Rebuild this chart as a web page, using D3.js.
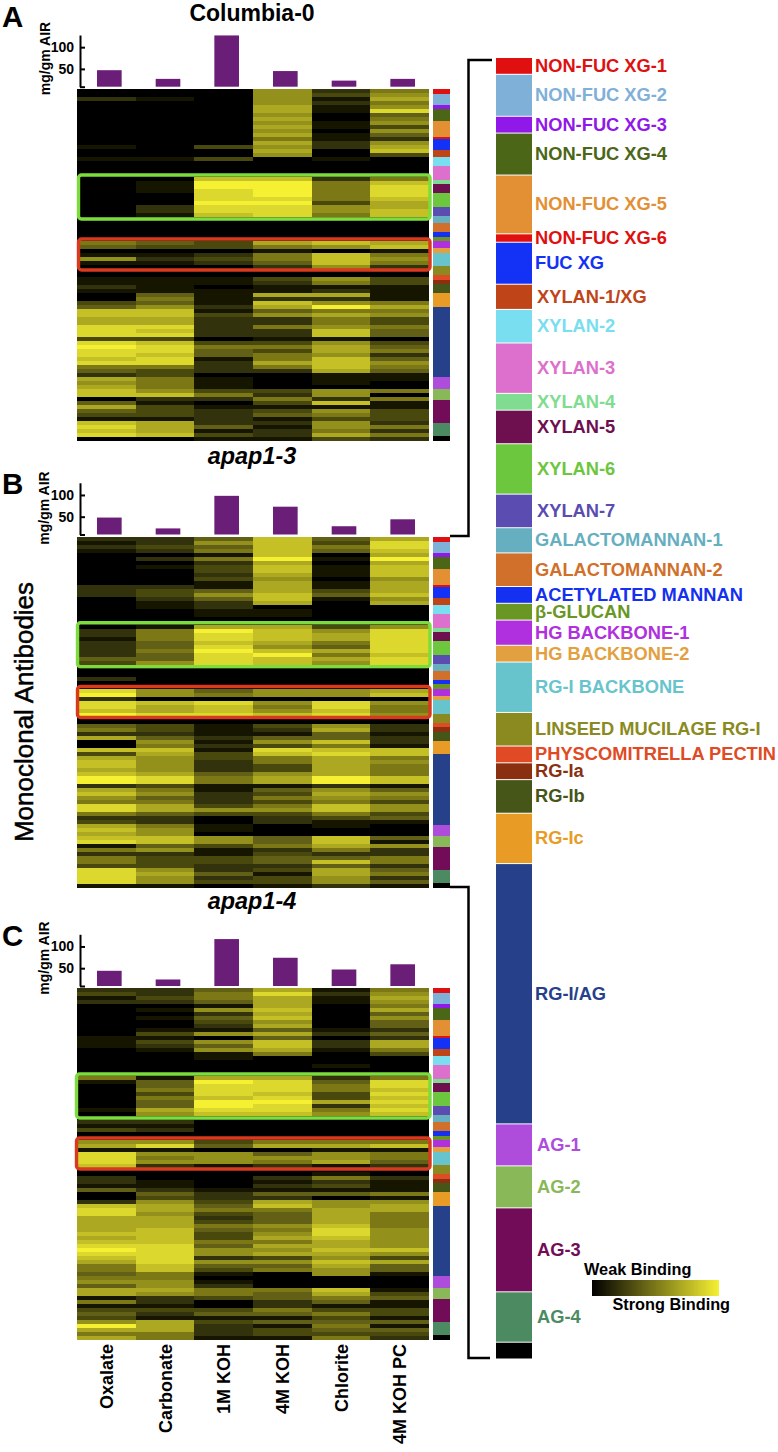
<!DOCTYPE html>
<html><head><meta charset="utf-8">
<style>html,body{margin:0;padding:0;background:#fff}svg{display:block}text{font-family:"Liberation Sans",Arial,sans-serif}</style>
<script src="https://cdn.jsdelivr.net/npm/d3@7/dist/d3.min.js"></script></head><body><div id="c"></div>
<script>
const fractions = ["Oxalate","Carbonate","1M KOH","4M KOH","Chlorite","4M KOH PC"];
const barsA = [47,27,127,45,23,27];
const barsB = [48,23,98,73,28,44];
const barsC = [44,24,117,74,47,59];
const yTicks = [9,50,100];
const groupNames = ["NON-FUC XG-1","NON-FUC XG-2","NON-FUC XG-3","NON-FUC XG-4","NON-FUC XG-5","NON-FUC XG-6","FUC XG","XYLAN-1/XG","XYLAN-2","XYLAN-3","XYLAN-4","XYLAN-5","XYLAN-6","XYLAN-7","GALACTOMANNAN-1","GALACTOMANNAN-2","ACETYLATED MANNAN","β-GLUCAN","HG BACKBONE-1","HG BACKBONE-2","RG-I BACKBONE","LINSEED MUCILAGE RG-I","PHYSCOMITRELLA PECTIN","RG-Ia","RG-Ib","RG-Ic","RG-I/AG","AG-1","AG-2","AG-3","AG-4",""];
const groupCounts = [2,5,2,5,7,1,5,3,4,6,2,4,6,4,3,4,2,2,3,2,6,4,2,2,4,6,31,5,5,10,6,2];
const groupColors = ["#e01010","#7fb0d8","#9018e8","#4c6618","#e39035","#e01010","#1432f5","#bf4518","#78def0","#dd70cc","#7fdc90","#6e0f50","#6cc63e","#5a4cb0","#66afc0","#d0702a","#1430f0","#6a9624","#b030e0","#e3a040","#68c4cc","#8a8a20","#e04a25","#8a3010","#465518","#e89c25","#26408a","#ae4cdc","#88b858","#720c58","#4c8a62","#000000"];
const greenRows = [21.5,32.5];
const redRows = [37.5,45.25];
const rowsA = [
[0,0,0,6,2,5],[0,0,0,6,3,6],[2,1,0,6,1,7],[0,0,0,6,2,5],[0,0,0,7,1,6],[0,0,0,7,1,9],[0,0,0,6,0,4],[0,0,0,7,0,5],[0,0,0,6,1,6],[0,0,0,7,1,3],[0,0,0,6,0,6],
[0,0,0,7,1,4],[0,0,0,5,1,2],[0,0,0,7,2,6],[1,0,3,6,2,7],[0,0,0,7,0,8],[0,0,0,6,0,3],[1,1,3,0,1,0],[0,0,0,0,0,0],[0,0,0,0,0,0],[0,0,0,0,0,0],[0,0,0,0,0,0],
[0,0,8,8,2,5],[0,1,10,10,5,8],[0,1,10,11,5,9],[0,1,9,10,5,9],[0,0,9,10,5,9],[0,0,9,9,5,8],[0,0,10,10,3,7],[0,2,9,9,6,7],[0,2,9,9,6,8],[0,1,8,9,5,8],[1,1,1,1,1,1],
[0,0,0,0,0,0],[0,0,0,0,0,0],[0,0,0,0,0,0],[0,0,0,0,0,0],[0,0,0,0,0,0],[5,4,3,7,8,7],[4,3,3,5,6,8],[0,0,0,1,0,1],[1,1,2,5,8,5],[6,2,3,5,8,6],[1,1,2,4,8,5],
[0,0,0,2,6,2],[0,0,0,0,0,0],[0,0,0,0,0,0],[1,1,1,3,6,3],[1,1,1,2,5,3],[2,1,0,1,1,1],[1,1,1,1,2,1],[0,4,1,7,7,1],[0,5,1,2,2,1],[3,4,1,8,6,5],[4,6,2,7,10,7],
[8,8,1,4,5,5],[8,8,3,6,7,6],[7,7,2,2,5,3],[7,7,2,2,5,3],[9,9,2,5,6,5],[9,8,2,2,8,4],[9,9,2,2,8,4],[3,3,0,1,1,0],[9,8,3,3,6,3],[10,9,5,5,7,4],[9,9,4,3,7,5],[9,8,4,5,6,2],
[8,9,1,5,8,4],[9,9,2,7,8,6],[5,5,2,5,8,5],[4,3,2,2,7,4],[2,3,0,0,1,1],[7,5,1,0,1,1],[6,5,1,0,1,0],[7,5,1,0,0,0],[8,6,3,3,6,5],[8,8,5,2,6,0],
[0,2,2,5,2,5],[4,1,0,3,8,1],[7,3,1,1,1,1],[4,3,2,3,6,3],[3,3,2,4,5,3],[1,1,2,1,3,3],[8,7,2,2,6,2],[9,7,4,1,6,5],[8,7,1,2,5,2],[9,8,3,2,7,5],[0,0,1,1,3,2]];
const rowsB = [
[2,2,4,8,4,7],[1,2,6,8,3,9],[2,3,4,8,5,9],[1,2,5,8,4,8],[0,0,1,8,0,7],[0,2,5,10,1,10],[0,0,2,7,0,7],[0,1,3,8,1,8],[0,0,3,8,1,8],[0,0,2,7,1,8],[0,0,3,6,0,6],
[0,0,1,7,1,7],[2,2,1,7,1,7],[2,3,4,7,3,7],[2,3,6,8,4,8],[0,2,4,8,1,6],[0,1,2,7,0,7],[0,1,2,0,0,0],[0,0,1,1,0,0],[0,0,1,1,0,0],[0,0,0,0,0,0],[0,0,0,0,0,0],
[0,1,7,7,3,6],[2,5,10,8,6,9],[2,5,9,8,7,9],[1,5,9,8,7,9],[2,4,8,7,5,9],[2,4,9,6,4,9],[2,5,10,8,7,9],[2,4,9,10,5,8],[4,4,9,8,7,9],[3,6,9,8,6,9],[1,1,1,1,1,1],
[0,0,0,0,0,0],[0,0,0,0,0,0],[2,0,0,0,0,0],[0,0,0,0,0,0],[0,0,0,0,0,0],[9,6,4,6,6,7],[10,6,5,6,6,8],[2,0,0,0,0,0],[9,8,9,6,9,6],[9,7,8,5,9,5],[8,7,8,6,8,5],
[10,9,9,8,9,6],[0,0,0,0,0,0],[0,0,0,0,0,0],[4,3,1,3,6,2],[5,3,1,2,7,2],[2,2,1,1,4,1],[7,4,2,4,4,2],[0,6,1,6,8,2],[0,5,2,3,5,1],[8,8,1,9,8,8],[3,7,3,8,9,8],
[7,6,3,5,7,5],[8,6,2,5,7,6],[8,6,2,3,7,5],[7,6,2,3,7,5],[8,7,4,6,7,5],[10,9,5,7,10,8],[10,9,5,7,10,8],[2,3,1,1,2,1],[7,5,1,4,6,4],[8,6,2,3,7,6],[6,4,2,5,6,5],[5,5,2,3,5,3],
[9,7,3,5,8,6],[9,7,6,6,8,6],[5,4,3,3,5,3],[2,2,0,2,3,4],[3,2,0,2,1,1],[7,5,1,0,1,0],[8,6,1,0,0,0],[7,6,0,0,0,0],[8,8,6,4,8,4],[9,8,6,4,8,1],
[1,4,3,5,7,6],[5,6,1,2,5,2],[2,2,1,3,2,2],[5,3,3,4,4,5],[5,3,3,4,8,5],[3,3,2,2,4,2],[9,6,2,3,7,4],[9,7,4,1,7,5],[9,6,2,3,6,2],[9,6,3,3,6,4],[1,1,0,1,2,1]];
const rowsC = [
[2,2,4,7,1,5],[3,2,5,9,2,6],[1,3,5,7,1,7],[2,2,4,7,1,6],[0,0,1,7,0,5],[0,1,6,8,0,7],[0,0,2,7,0,4],[0,1,4,8,0,6],[0,0,3,6,0,4],[0,0,2,7,0,4],[0,1,1,4,1,2],
[0,3,6,7,2,4],[1,1,0,4,0,2],[1,3,6,8,2,7],[1,2,4,8,2,7],[0,1,6,7,1,5],[0,0,1,5,0,3],[0,0,1,0,0,0],[0,0,0,0,0,0],[0,0,0,0,1,0],[0,0,0,0,0,0],[0,0,0,0,0,0],
[5,1,7,7,2,5],[1,4,10,9,4,9],[0,4,9,9,5,9],[0,5,9,9,5,8],[0,3,9,8,3,9],[0,5,8,9,3,8],[0,4,10,10,7,9],[0,4,10,9,2,8],[1,7,9,9,5,9],[0,6,8,8,6,8],[0,0,0,0,0,0],
[2,2,0,0,0,0],[1,1,0,0,0,0],[3,2,0,0,0,0],[0,0,0,0,0,0],[0,0,0,0,0,0],[6,6,3,5,5,5],[7,9,4,7,7,8],[1,1,0,0,1,1],[9,6,6,4,6,5],[9,5,6,6,6,5],[9,6,6,5,7,4],
[8,2,1,2,1,2],[0,0,0,0,0,0],[0,0,0,0,1,0],[2,0,0,2,5,2],[2,1,0,1,2,1],[1,1,0,2,3,1],[4,2,1,1,1,1],[0,4,2,4,4,5],[0,3,2,2,0,1],[2,6,3,7,6,6],[8,7,4,8,6,7],
[9,7,5,5,7,7],[9,6,3,4,7,5],[7,7,2,4,7,5],[7,7,3,4,7,5],[7,7,5,6,8,5],[7,8,4,5,9,6],[8,8,3,6,9,6],[7,8,3,7,8,6],[8,8,5,5,7,6],[9,9,4,7,7,6],[10,9,6,6,8,8],[9,9,6,7,7,6],
[8,9,2,3,6,3],[7,9,6,6,8,7],[5,8,4,4,7,4],[5,8,3,5,6,4],[4,5,1,0,6,1],[5,5,0,0,0,0],[6,6,1,0,0,0],[4,6,2,0,0,0],[7,7,5,5,8,1],[7,6,5,4,7,3],
[1,2,3,4,5,4],[5,2,0,2,4,1],[1,1,0,2,1,1],[3,3,3,5,3,3],[4,2,4,4,5,3],[3,1,1,1,3,1],[6,7,3,4,4,4],[10,7,2,1,5,1],[7,7,2,3,4,4],[5,5,2,3,3,3],[7,5,1,1,5,2]];

const svg = d3.select("#c").append("svg").attr("width",778).attr("height",1452);
const defs = svg.append("defs");
defs.append("filter").attr("id","soft").attr("x",0).attr("y",0).attr("width",1).attr("height",1)
  .append("feGaussianBlur").attr("stdDeviation","0 0.7");
const color = d3.scaleLinear().domain([0,10]).range(["#000000","#f5f032"]).clamp(true);
const total = d3.sum(groupCounts);
const cum = d3.cumsum(groupCounts);
const xHeat = d3.scaleBand().domain(d3.range(6)).range([77,429]);
const xBar = d3.scaleBand().domain(d3.range(6)).range([80,432]).paddingInner(0.58).paddingOuter(0.29);

function panel(cfg){
  const g = svg.append("g");
  const yRow = d3.scaleLinear().domain([0,cfg.rows.length]).range([cfg.top,cfg.top+cfg.h]);
  const heat = g.append("g").attr("shape-rendering","crispEdges").attr("filter","url(#soft)");
  cfg.rows.forEach((r,i)=>{
    heat.selectAll(null).data(r).join("rect")
      .attr("x",(d,j)=>xHeat(j)).attr("width",xHeat.bandwidth())
      .attr("y",yRow(i)).attr("height",yRow(i+1)-yRow(i)).attr("fill",d=>color(d));
  });
  // side colour strip
  const yS = d3.scaleLinear().domain([0,total]).range([cfg.top,cfg.top+cfg.h]);
  g.append("g").attr("shape-rendering","crispEdges").selectAll("rect").data(groupCounts).join("rect")
    .attr("x",433).attr("width",17)
    .attr("y",(d,i)=>yS(i?cum[i-1]:0)).attr("height",d=>yS(d)-yS(0)).attr("fill",(d,i)=>groupColors[i]);
  // bars
  const yB = d3.scaleLinear().domain([9,128]).range([cfg.base,cfg.base-51.7]);
  g.append("g").selectAll("rect").data(cfg.bars).join("rect")
    .attr("x",(d,i)=>xBar(i)).attr("width",xBar.bandwidth())
    .attr("y",d=>yB(d)).attr("height",d=>yB(9)-yB(d)).attr("fill","#6a1e78");
  const ax = g.append("g").attr("transform","translate(80,0)")
    .call(d3.axisLeft(yB).tickValues(yTicks).tickSize(-5).tickSizeOuter(0).tickPadding(6).tickFormat(d=>d===9?"":d));
  ax.selectAll("path,line").attr("stroke","#000").attr("stroke-width",2);
  ax.selectAll("text").attr("font-size",14).attr("font-weight","bold").attr("fill","#000").attr("font-family",'"Liberation Sans",Arial,sans-serif');
  // highlight boxes
  [[greenRows,"#7cdc3e"],[redRows,"#d93a1e"]].forEach(([s,c])=>{
    g.append("rect").attr("x",cfg.boxX).attr("width",430-cfg.boxX)
      .attr("y",yRow(s[0])).attr("height",yRow(s[1])-yRow(s[0]))
      .attr("rx",3).attr("fill","none").attr("stroke",c).attr("stroke-width",3.4);
  });
  // letter + y title
  g.append("text").attr("x",2).attr("y",cfg.letterY).attr("font-size",29.5).attr("font-weight","bold").text(cfg.letter);
  g.append("text").attr("transform",`translate(${cfg.unitX},${cfg.unitY}) rotate(-90)`).attr("text-anchor","middle")
    .attr("font-size",14).attr("font-weight","bold").text("mg/gm AIR");
}
panel({rows:rowsA,bars:barsA,top:89,h:352,base:86.7,boxX:78.5,letter:"A",letterY:27,unitX:49.5,unitY:58.5});
panel({rows:rowsB,bars:barsB,top:537,h:351,base:534.5,boxX:77.5,letter:"B",letterY:494,unitX:48.5,unitY:508});
panel({rows:rowsC,bars:barsC,top:988,h:352,base:986,boxX:76.5,letter:"C",letterY:946,unitX:48.5,unitY:958});

// titles
svg.append("text").attr("x",252).attr("y",21).attr("text-anchor","middle").attr("font-size",23).attr("font-weight","bold").text("Columbia-0");
[["apap1-3",464],["apap1-4",909]].forEach(([t,y])=>svg.append("text").attr("x",252).attr("y",y).attr("text-anchor","middle").attr("font-size",23.4).attr("font-weight","bold").attr("font-style","italic").text(t));
svg.append("text").attr("transform","translate(33,712) rotate(-90)").attr("text-anchor","middle").attr("font-size",26).attr("stroke","#000").attr("stroke-width",0.5).text("Monoclonal Antibodies");

// column labels
const xLab = d3.scaleBand().domain(d3.range(6)).range([77,429]);
svg.append("g").selectAll("text").data(fractions).join("text")
  .attr("transform",(d,i)=>`translate(${xLab(i)+36},1344) rotate(-90)`)
  .attr("text-anchor","end").attr("font-size",18).attr("font-weight","bold").text(d=>d);

// key bar
const yK = d3.scaleLinear().domain([0,total]).range([57.5,1359]);
const key = svg.append("g");
key.selectAll("rect").data(groupCounts).join("rect")
  .attr("x",496).attr("width",36)
  .attr("y",(d,i)=>yK(i?cum[i-1]:0)+0.5).attr("height",d=>yK(d)-yK(0)-1).attr("fill",(d,i)=>groupColors[i]);
key.selectAll("text").data(groupNames).join("text")
  .attr("x",d=>/^(XYLAN|AG)/.test(d)?537:535)
  .attr("y",(d,i)=>yK((i?cum[i-1]:0)+groupCounts[i]/2)+6)
  .attr("font-size",18.3).attr("font-weight","bold").attr("fill",(d,i)=>groupColors[i]).text(d=>d);

// brackets
const line = d3.line();
[[[450,536],[468.5,536],[468.5,60],[492,60]],[[450,887],[468.5,887],[468.5,1358],[490,1358]]].forEach(p=>
  svg.append("path").attr("d",line(p)).attr("fill","none").attr("stroke","#000").attr("stroke-width",2.5));

// legend
const lg = defs.append("linearGradient").attr("id","lg");
d3.range(0,11).forEach(v=>lg.append("stop").attr("offset",v/10).attr("stop-color",color(v)));
svg.append("rect").attr("x",592).attr("y",1280).attr("width",127).attr("height",16).attr("fill","url(#lg)");
svg.append("text").attr("x",584).attr("y",1275).attr("font-size",16.3).attr("font-weight","bold").text("Weak Binding");
svg.append("text").attr("x",612.5).attr("y",1310).attr("font-size",16.3).attr("font-weight","bold").text("Strong Binding");
</script></body></html>
